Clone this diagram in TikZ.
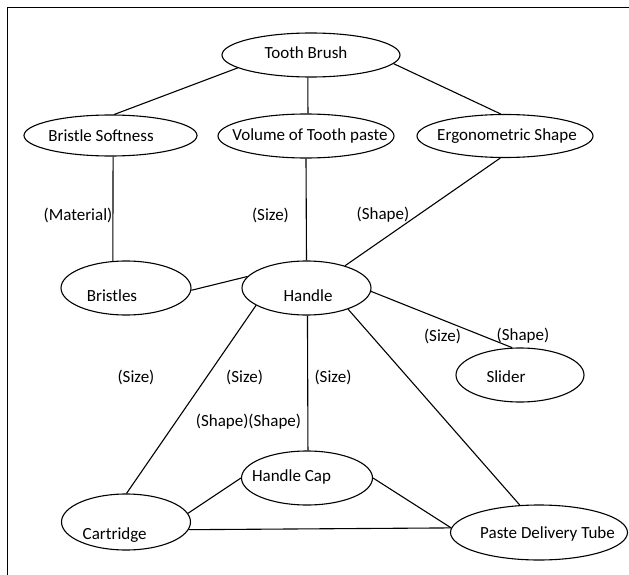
\documentclass[tikz,border=0pt]{standalone}
\usepackage{fontspec}
\setmainfont{Carlito}
\usetikzlibrary{shapes.geometric}
\begin{document}
\begin{tikzpicture}[x=1pt,y=-1pt,
  ell/.style={draw, ellipse, inner sep=0pt, line width=1.1pt},
  edge/.style={line width=1.1pt},
  lbl/.style={inner sep=0pt, font=\fontsize{17}{20}\selectfont}]
\useasboundingbox (0,0) rectangle (629,575);
\coordinate (frameA) at (629,7.5);
\coordinate (frameB) at (7.5,7.5);
\coordinate (frameC) at (7.5,575);
\draw[line width=1pt] (frameA) -- (frameB) -- (frameC);

% ellipses
\node[ell, minimum width=178pt, minimum height=44pt, label={[lbl, shift={(-5,-2)}]center:Tooth Brush}] (TB) at (311,55) {};
\node[ell, minimum width=173pt, minimum height=41pt, label={[lbl, shift={(-9.5,0)}]center:Bristle Softness}] (BS) at (110.5,135.5) {};
\node[ell, minimum width=176pt, minimum height=44pt, label={[lbl, shift={(4,0)}]center:Volume of Tooth paste}] (VTP) at (306,136) {};
\node[ell, minimum width=176pt, minimum height=43pt, label={[lbl, shift={(2,0)}]center:Ergonometric Shape}] (ES) at (505,136) {};
\node[ell, minimum width=130pt, minimum height=54pt, label={[lbl, shift={(-14,8)}]center:Bristles}] (BR) at (126,288) {};
\node[ell, minimum width=129pt, minimum height=54pt, label={[lbl, shift={(1.5,8)}]center:Handle}] (HA) at (306.5,288) {};
\node[ell, minimum width=128pt, minimum height=54pt, label={[lbl, shift={(-14,1.7)}]center:Slider}] (SL) at (520,375) {};
\node[ell, minimum width=131pt, minimum height=54pt, label={[lbl, shift={(-15.5,-1)}]center:Handle Cap}] (HC) at (307,478) {};
\node[ell, minimum width=129pt, minimum height=56pt, label={[lbl, shift={(-11.3,13)}]center:Cartridge}] (CA) at (126,522) {};
\node[ell, minimum width=177pt, minimum height=55pt, label={[lbl, shift={(8.5,1.5)}]center:Paste Delivery Tube}] (PD) at (539,532.5) {};

% connectors
\draw[edge] (TB.190.5) -- (BS.80);
\draw[edge] (TB.262) -- (VTP.85);
\draw[edge] (TB.354) -- (ES.101.8);
\draw[edge] (BS.277) -- (BR.116);
\draw[edge] (VTP.270) -- (HA.90);
\draw[edge] (ES.258) -- (HA.30);
\draw[edge] (BR.358) -- (HA.169.5);
\draw[edge] (HA.357) -- (SL.106.5);
\draw[edge] (HA.199.6) -- (CA.89);
\draw[edge] (HA.272) -- (HC.88);
\draw[edge] (HA.333) -- (PD.125.3);
\draw[edge] (CA.8.4) -- (HC.180.9);
\draw[edge] (CA.353.5) -- (PD.177.7);
\draw[edge] (HC.0) -- (PD.177.7);

% relation labels
\node[lbl] (l1) at (78,215) {(Material)};
\node[lbl] (l2) at (270.5,215) {(Size)};
\node[lbl] (l3) at (383,215) {(Shape)};
\node[lbl] (l4) at (442.5,336) {(Size)};
\node[lbl] (l5) at (523,336) {(Shape)};
\node[lbl] (l6) at (136,377) {(Size)};
\node[lbl] (l7) at (244.6,377) {(Size)};
\node[lbl] (l8) at (333,377) {(Size)};
\node[lbl] (l9) at (248.5,422) {(Shape)(Shape)};
\end{tikzpicture}
\end{document}
